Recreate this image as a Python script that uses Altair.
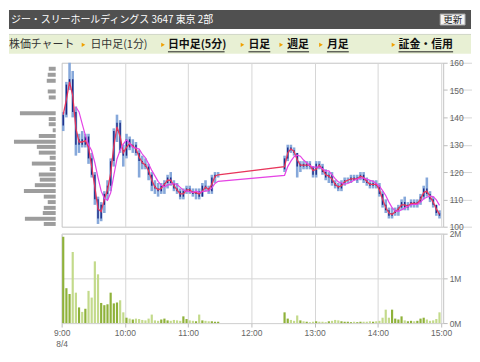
import altair as alt
import pandas as pd

# ---- price data: 3-minute bars, morning from 9:00, afternoon from 12:30 (minutes after 9:00)
am_open  = [137,141,152,154,142,130,132,130,133,125,119,110,103,108,112,115,124,135,138,128,126,132,129,130,127,124,123,122,119,115,114,113,115,116,118,116,114,113,111,113,114,113,112,113,111,115,114,113,118,119]
am_high  = [142,153,160,157,144,134,135,134,134,127,120,111,109,113,117,125,136,141,139,130,134,133,132,131,128,126,125,123,120,117,116,116,117,119,120,117,116,114,114,115,115,114,114,114,116,117,115,119,120,120]
am_low   = [135,140,150,140,126,127,129,129,123,118,108,101,102,105,110,113,122,131,127,122,125,128,127,126,118,121,121,117,113,112,111,112,112,114,115,113,112,110,110,112,112,111,110,110,111,113,112,112,116,118]
am_close = [141,152,154,142,130,132,130,133,125,119,110,103,108,112,115,124,135,138,128,126,132,129,130,127,124,123,122,119,115,114,113,115,116,118,116,114,113,111,113,114,113,112,113,111,115,114,113,118,119,119]
am_vol   = [1.93,0.78,0.65,1.59,0.68,0.35,0.25,0.32,0.72,0.57,1.38,1.09,0.45,0.40,0.42,0.68,0.44,0.46,0.51,0.24,0.12,0.10,0.08,0.10,0.09,0.07,0.06,0.10,0.19,0.06,0.05,0.08,0.10,0.06,0.05,0.07,0.06,0.05,0.15,0.09,0.06,0.05,0.04,0.19,0.06,0.05,0.04,0.04,0.03,0.03]

pm_open  = [121,125,129,128,127,122,123,122,123,122,119,123,122,120,118,119,116,115,114,116,117,117,118,117,118,119,117,116,115,116,115,112,108,106,104,105,106,107,109,107,108,109,108,109,111,114,112,110,108,105]
pm_high  = [126,130,130,129,127,124,124,124,124,122,124,124,123,121,120,120,117,116,117,118,118,119,119,119,120,120,118,117,117,117,116,113,110,107,107,107,108,110,111,109,110,110,110,112,115,118,113,111,108,106]
pm_low   = [120,124,127,126,118,120,121,121,121,118,118,121,119,117,116,115,114,113,113,115,116,116,117,116,117,116,115,114,114,114,111,107,105,103,103,104,104,106,106,106,107,107,107,108,110,111,109,107,104,103]
pm_close = [125,129,128,127,122,123,122,123,122,119,123,122,120,118,119,116,115,114,116,117,117,118,117,118,119,117,116,115,116,115,112,108,106,104,105,106,107,109,107,108,109,108,109,111,114,112,110,108,105,104]
pm_vol   = [0.24,0.10,0.07,0.05,0.17,0.06,0.04,0.03,0.02,0.03,0.04,0.03,0.03,0.02,0.04,0.05,0.07,0.06,0.04,0.03,0.03,0.02,0.03,0.02,0.03,0.03,0.03,0.04,0.03,0.04,0.05,0.12,0.30,0.12,0.30,0.10,0.08,0.15,0.06,0.04,0.05,0.04,0.05,0.10,0.12,0.08,0.05,0.06,0.09,0.24]

bar_start = list(range(0, 150, 3)) + list(range(210, 360, 3))

# ---- volume by price (left panel)
vbp_price = [157.8,155.6,153.4,149.5,147.3,141.5,139.4,137.5,135.3,133.2,131.1,129.2,127.1,125.2,123.1,121.1,119.1,117.2,115.2,113.1,111.0,109.0,106.9,105.0,102.9,101.0]
vbp_vol   = [7,8,9,8,7,36,7,7,3,17,42,19,17,6,24,6,17,16,21,32,12,8,12,13,31,12]

# ---- texts
title_text = "ジー・スリーホールディングス 3647 東京 2部"
nav_plain = ["株価チャート", "日中足(1分)"]
nav_bold = ["日中足(5分)", "日足", "週足", "月足", "証金・信用"]
hour_ticks = [0, 60, 120, 180, 240, 300, 360]
price_ticks = [100, 110, 120, 130, 140, 150, 160]

df = pd.DataFrame({
    "t": [s + 1.5 for s in bar_start],
    "o": am_open + pm_open,
    "h": am_high + pm_high,
    "l": am_low + pm_low,
    "c": am_close + pm_close,
    "v": am_vol + pm_vol,
})
vbp = pd.DataFrame({"price": vbp_price, "vol": vbp_vol})

W, H, HV = 384, 165, 90
GRID = "#d6d6d6"
xs = alt.Scale(domain=[0, 362], nice=False, zero=False, padding=0)
ys = alt.Scale(domain=[100, 160], nice=False, zero=False, padding=0)

x_axis_p = alt.Axis(values=hour_ticks[1:], labels=False, ticks=False, domain=False,
                    grid=True, gridColor=GRID, title=None)
y_axis_p = alt.Axis(orient="right", values=price_ticks, title=None, domain=False,
                    tickSize=4, tickColor="#bbbbbb", labelPadding=2, grid=True, gridColor=GRID)

base = alt.Chart(df)
X = alt.X("t:Q", scale=xs, axis=x_axis_p)

wick = base.mark_rule(color="#86a8da", strokeWidth=2.6).encode(
    x=X, y=alt.Y("l:Q", scale=ys, axis=y_axis_p), y2="h:Q")
body = base.mark_rule(color="#1c2b86", strokeWidth=1.4).encode(
    x=X, y=alt.Y("o:Q", scale=ys, axis=y_axis_p), y2="c:Q")
red = base.transform_window(
    ma="mean(c)", frame=[-1, 0], sort=[alt.SortField("t")]
).mark_line(color="#e8365c", strokeWidth=1.3).encode(
    x=X, y=alt.Y("ma:Q", scale=ys, axis=y_axis_p))
mag = base.transform_window(
    ma="mean(c)", n="count()", frame=[-4, 0], sort=[alt.SortField("t")]
).transform_filter("datum.n >= 5").mark_line(color="#e544e5", strokeWidth=1.2).encode(
    x=X, y=alt.Y("ma:Q", scale=ys, axis=y_axis_p))

price_layers = alt.layer(wick, body, red, mag)

vbp_layer = alt.Chart(vbp).mark_rule(color="#9d9d9d", strokeWidth=4).encode(
    x=alt.X("vol:Q", scale=alt.Scale(domain=[0, 47], range=[-6, -53], padding=0), axis=None),
    x2=alt.datum(0),
    y=alt.Y("price:Q", scale=ys, axis=y_axis_p),
)

one = pd.DataFrame({"a": [0]})
header = alt.Chart(one).mark_rect(color="#505050").encode(
    x=alt.value(-53), x2=alt.value(412), y=alt.value(-53), y2=alt.value(-34))
header_txt = alt.Chart(pd.DataFrame({"label": [title_text]})).mark_text(
    align="left", baseline="middle", font="Noto Sans CJK JP", fontSize=10, color="white"
).encode(x=alt.value(-51), y=alt.value(-43.5), text="label:N")
button = alt.Chart(one).mark_rect(fill="#f3f3f3", stroke="#a8a8a8", strokeWidth=1).encode(
    x=alt.value(381), x2=alt.value(406), y=alt.value(-49), y2=alt.value(-38))
button_txt = alt.Chart(pd.DataFrame({"label": ["更新"]})).mark_text(
    align="center", baseline="middle", font="Noto Sans CJK JP", fontSize=9.5, color="#222222"
).encode(x=alt.value(393.5), y=alt.value(-43.5), text="label:N")

navband = alt.Chart(one).mark_rect(color="#e8f0d4").encode(
    x=alt.value(-53), x2=alt.value(412), y=alt.value(-28), y2=alt.value(-9))
navline = alt.Chart(one).mark_rule(color="#d0d6c6", strokeWidth=1).encode(
    x=alt.value(-53), x2=alt.value(412), y=alt.value(-28.5))

nav_p = pd.DataFrame({"label": nav_plain, "px": [-53, 29]})
nav_b = pd.DataFrame({"label": nav_bold, "px": [107, 188, 227, 267, 339],
                      "px2": [164, 210, 249, 289, 394]})
arrows = pd.DataFrame({"px": [22, 102, 182, 221, 261, 334]})

nav_plain_txt = alt.Chart(nav_p).mark_text(
    align="left", baseline="middle", font="Noto Sans CJK JP", fontSize=11, color="#333333"
).encode(x=alt.X("px:Q", scale=None, axis=None), y=alt.value(-18), text="label:N")
nav_bold_txt = alt.Chart(nav_b).mark_text(
    align="left", baseline="middle", font="Noto Sans CJK JP", fontSize=11, fontWeight="bold",
    color="#111111"
).encode(x=alt.X("px:Q", scale=None, axis=None), y=alt.value(-18), text="label:N")
nav_under = alt.Chart(nav_b).mark_rule(color="#222222", strokeWidth=1).encode(
    x=alt.X("px:Q", scale=None, axis=None), x2="px2:Q", y=alt.value(-11))
nav_arrows = alt.Chart(arrows).mark_point(
    shape="triangle-right", filled=True, size=18, color="#f0a000", opacity=1
).encode(x=alt.X("px:Q", scale=None, axis=None), y=alt.value(-18))

price = alt.layer(
    header, header_txt, button, button_txt, navband, navline,
    nav_plain_txt, nav_bold_txt, nav_under, nav_arrows,
    vbp_layer, price_layers
).resolve_scale(x="independent").properties(width=W, height=H)

vol_x_axis = alt.Axis(
    values=hour_ticks,
    labelExpr="datum.value == 0 ? ['9:00', '8/4'] : (floor(datum.value / 60) + 9) + ':00'",
    grid=True, gridColor=GRID, ticks=True, tickSize=4, tickColor="#bbbbbb",
    domain=False, title=None, labelPadding=2, labelLineHeight=11, labelFlush=False,
)
vol_y_axis = alt.Axis(orient="right", values=[0, 1, 2], labelExpr="datum.value + 'M'",
                      title=None, domain=False, tickSize=4, tickColor="#bbbbbb",
                      labelPadding=2, grid=True, gridColor=GRID)

volume = alt.Chart(df).mark_bar(orient="vertical", size=2.2).encode(
    x=alt.X("t:Q", scale=xs, axis=vol_x_axis),
    y=alt.Y("v:Q", scale=alt.Scale(domain=[0, 2], nice=False, padding=0), axis=vol_y_axis),
    color=alt.condition("datum.c >= datum.o", alt.value("#8fb23a"), alt.value("#c3da8b")),
).properties(width=W, height=HV)

chart = alt.vconcat(price, volume, spacing=7, bounds="flush").resolve_scale(
    x="independent", y="independent"
).properties(padding=0, background="white").configure_view(
    stroke="#c4c4c4"
).configure_axis(
    labelFont="Liberation Sans", labelFontSize=8.5, labelColor="#666666"
)

chart.save("out.html", embed_options={"renderer": "svg", "actions": False})
